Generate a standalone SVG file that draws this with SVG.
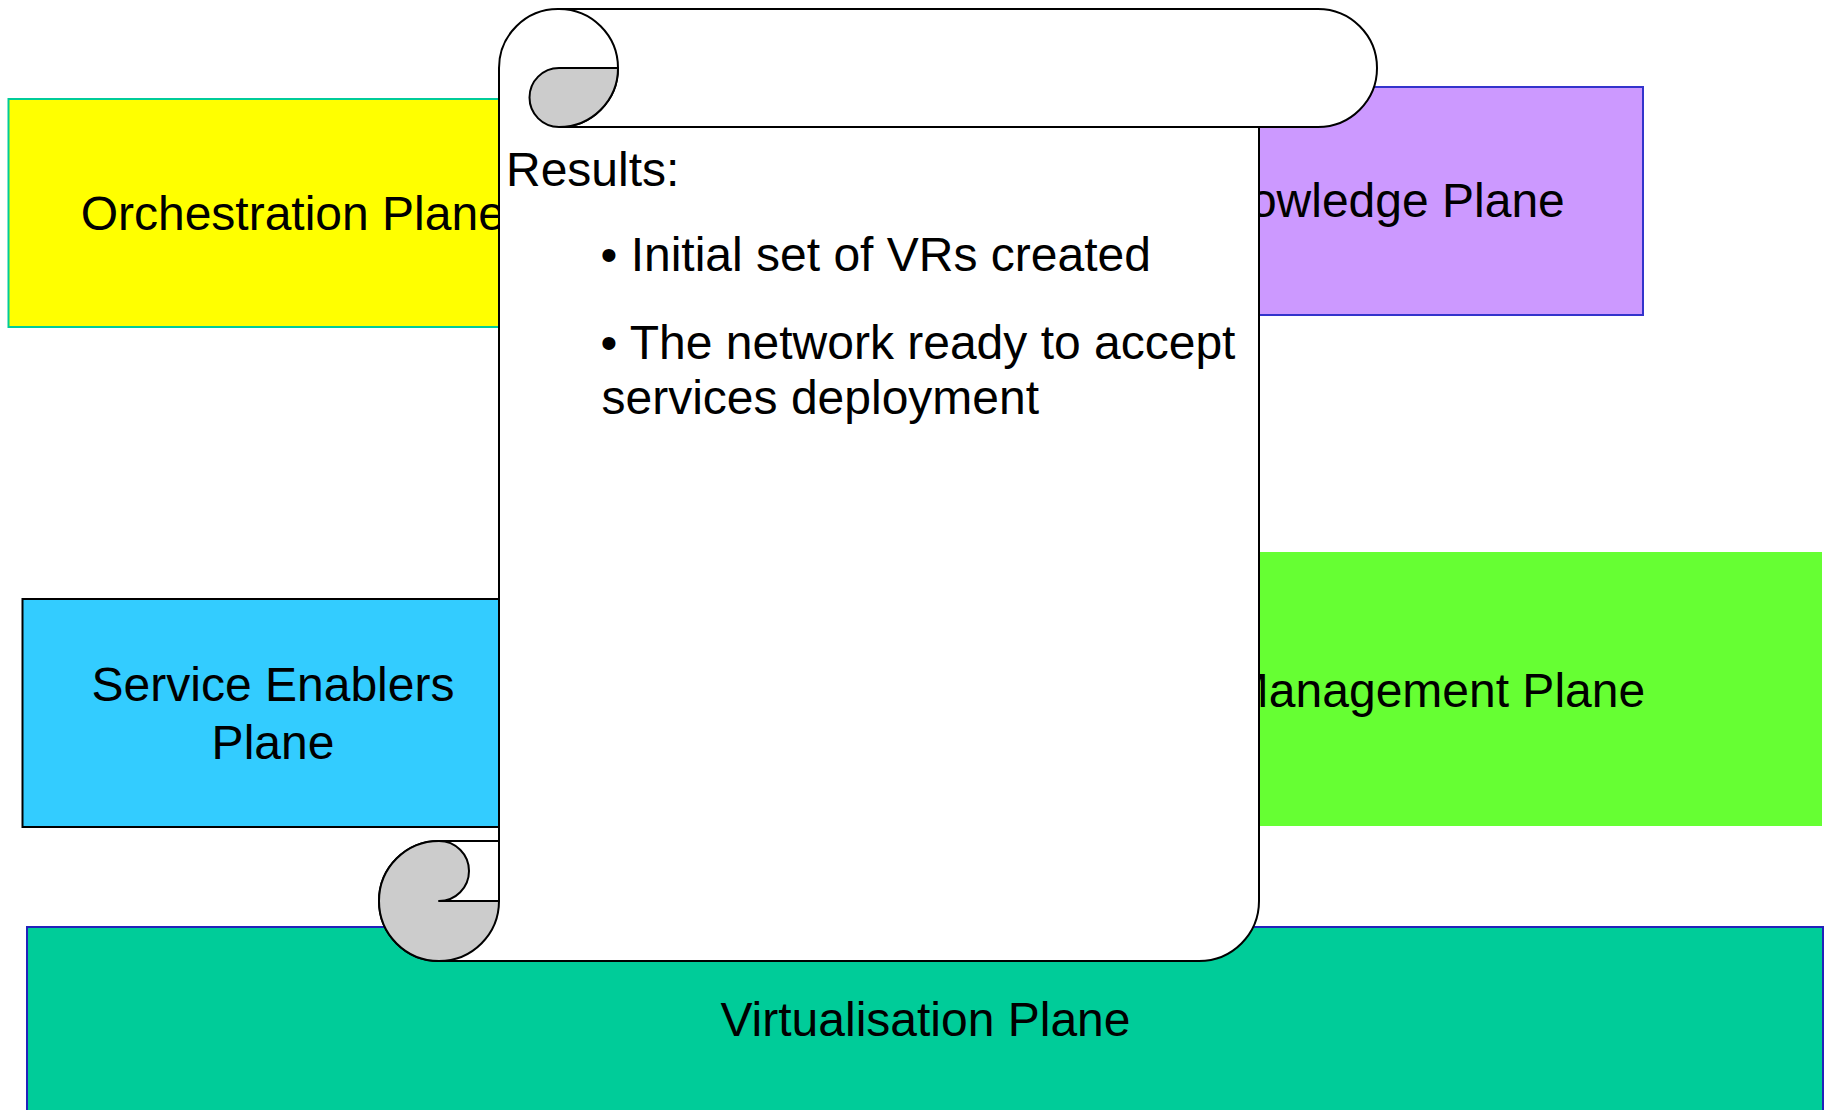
<svg xmlns="http://www.w3.org/2000/svg" width="1830" height="1110" viewBox="0 0 1830 1110">
  <style>
    .lbl { font-family: "Liberation Sans", Arial, sans-serif; font-size: 48px; fill: #000000; }
    .mid { text-anchor: middle; }
    .scroll { fill: #FFFFFF; stroke: #000000; stroke-width: 2; stroke-linejoin: round; }
    .curl { fill: #CCCCCC; stroke: #000000; stroke-width: 2; stroke-linejoin: round; }
    .edge { fill: none; stroke: #000000; stroke-width: 2; }
  </style>
  <rect x="0" y="0" width="1830" height="1110" fill="#FFFFFF"/>

  <g id="orchestration-plane">
    <rect x="8.5" y="99" width="568.5" height="228" fill="#FFFF00" stroke="#00CC99" stroke-width="2"/>
    <text class="lbl mid" x="292.75" y="230">Orchestration Plane</text>
  </g>

  <g id="knowledge-plane">
    <rect x="1113" y="87" width="530" height="228" fill="#CC99FF" stroke="#3333CC" stroke-width="2"/>
    <text class="lbl mid" x="1378" y="217">Knowledge Plane</text>
  </g>

  <g id="management-plane">
    <rect x="1052" y="552" width="770" height="274" fill="#66FF33"/>
    <text class="lbl mid" x="1437" y="707">Management Plane</text>
  </g>

  <g id="service-enablers-plane">
    <rect x="22.5" y="599" width="500.5" height="228" fill="#33CCFF" stroke="#000000" stroke-width="2"/>
    <text class="lbl mid" x="273" y="701">Service Enablers</text>
    <text class="lbl mid" x="273" y="759">Plane</text>
  </g>

  <g id="virtualisation-plane">
    <rect x="27" y="927" width="1796" height="200" fill="#00CC99" stroke="#2222BB" stroke-width="2"/>
    <text class="lbl mid" x="925.5" y="1036">Virtualisation Plane</text>
  </g>

  <g id="connectors"></g>

  <g id="results-scroll">
    <path class="scroll" d="M 559,9 L 1318,9 A 59 59 0 0 1 1318,127 L 1259,127 L 1259,901 A 60 60 0 0 1 1199,961 L 439,961 A 60 60 0 0 1 379,901 A 60 60 0 0 1 439,841 L 499,841 L 499,68 A 59 59 0 0 1 559,9 Z"/>
    <path class="edge" d="M 559,127 L 1259,127"/>
    <path class="edge" d="M 559,9 A 59 59 0 0 1 559,127"/>
    <path class="curl" d="M 559,68 L 618,68 A 59 59 0 0 1 559,127 A 29.5 29.5 0 0 1 559,68 Z"/>
    <path class="curl" d="M 439,841 A 30 30 0 0 1 439,901 L 499,901 A 60 60 0 1 1 439,841 Z"/>
    <path class="edge" d="M 499,841 L 499,901"/>
    <text class="lbl" x="506" y="186">Results:</text>
    <text class="lbl" x="600.5" y="271">• Initial set of VRs created</text>
    <text class="lbl" x="600.5" y="359">• The network ready to accept</text>
    <text class="lbl" x="601.5" y="414">services deployment</text>
  </g>
</svg>
